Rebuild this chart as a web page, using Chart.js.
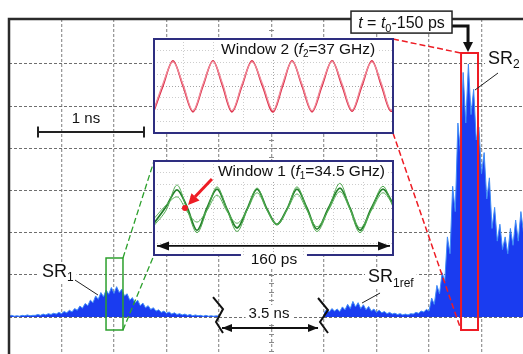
<!DOCTYPE html>
<html>
<head>
<meta charset="utf-8">
<script src="https://cdn.jsdelivr.net/npm/chart.js@4.4.1/dist/chart.umd.min.js"></script>
<style>
  html, body { margin: 0; padding: 0; background: #fff; }
  #wrap { position: relative; width: 523px; height: 354px; overflow: hidden; }
  #main { position: absolute; left: 0; top: 0; }
  .inset { position: absolute; }
</style>
</head>
<body>
<div id="wrap">
  <canvas id="main" width="523" height="354"></canvas>
  <canvas id="win2" class="inset"></canvas>
  <canvas id="win1" class="inset"></canvas>
</div>
<script>
// ---- main trace (x in screen divisions, y in divisions above baseline) ----
const traceStep = 0.05;
const sr1Start = 0;
const sr1Trace = [
  0.02, 0.04, 0.02, 0.03, 0.02, 0.04, 0.03, 0.05, 0.03, 0.04,
  0.04, 0.06, 0.04, 0.07, 0.05, 0.08, 0.06, 0.09, 0.07, 0.11,
  0.08, 0.13, 0.10, 0.16, 0.12, 0.20, 0.16, 0.26, 0.21, 0.32,
  0.27, 0.40, 0.34, 0.50, 0.42, 0.58, 0.48, 0.64, 0.54, 0.70,
  0.56, 0.72, 0.58, 0.66, 0.50, 0.55, 0.40, 0.46, 0.33, 0.40,
  0.27, 0.33, 0.22, 0.27, 0.18, 0.22, 0.14, 0.17, 0.11, 0.14,
  0.09, 0.12, 0.07, 0.10, 0.06, 0.08, 0.05, 0.07, 0.04, 0.06,
  0.03, 0.05, 0.03, 0.04, 0.02, 0.04, 0.02, 0.03, 0.02, 0.03,
  0.02
];
const sr2Start = 6.0;
const sr2Trace = [
  0.10, 0.18, 0.12, 0.20, 0.14, 0.19, 0.13, 0.24, 0.17, 0.30,
  0.20, 0.37, 0.24, 0.34, 0.20, 0.29, 0.17, 0.25, 0.14, 0.19,
  0.11, 0.16, 0.10, 0.13, 0.08, 0.11, 0.07, 0.09, 0.06, 0.08,
  0.05, 0.07, 0.05, 0.08, 0.07, 0.11, 0.09, 0.14, 0.12, 0.18,
  0.14, 0.45, 0.30, 0.75, 0.55, 1.05, 0.85, 1.9, 1.5, 3.1,
  2.5, 4.6, 3.9, 5.8, 4.6, 6.0, 4.8, 5.4, 4.2, 4.5,
  3.4, 3.9, 2.8, 3.3, 2.1, 2.6, 1.8, 2.2, 1.6, 1.9,
  1.5, 2.1, 1.7, 2.3, 1.8, 2.5, 2.0
];
const gridX = [1, 2, 3, 4, 5, 6, 7, 8, 9];
const gridY = [0, 1, 2, 3, 4, 5, 6];

// ---- window 2 (f2 = 37 GHz), time in ps ----
const w2Times  = [0, 6.0, 12.7, 19.4, 26.1, 32.8, 39.5, 45.9, 52.2, 58.9, 65.6, 72.6, 79.7,
                  86.1, 92.4, 99.1, 105.8, 112.5, 119.2, 125.9, 132.6, 139.2, 145.9, 152.3, 158.7, 160];
const w2TraceA = [-2.1, 0.0, 2.15, 0.0, -2.2, 0.0, 2.15, 0.0, -2.2, 0.0, 2.15, 0.0, -2.2,
                  0.0, 2.15, 0.0, -2.2, 0.0, 2.15, 0.0, -2.15, 0.0, 2.15, 0.0, -2.15, -2.1];
const w2TraceB = [-2.0, 0.2, 2.05, 0.15, -2.1, 0.15, 2.1, 0.2, -2.1, 0.15, 2.05, 0.2, -2.1,
                  0.2, 2.1, 0.15, -2.1, 0.2, 2.1, 0.2, -2.05, 0.2, 2.05, 0.2, -2.05, -2.0];

// ---- window 1 (f1 = 34.5 GHz) ----
const w1Times  = [0, 8.5, 15.4, 22.1, 28.8, 35.5, 42.2, 48.9, 55.6, 62.3, 69.0, 75.7,
                  82.3, 89.0, 95.7, 102.4, 109.1, 116.8, 124.5, 131.2, 137.9, 145.6, 153.3, 160];
const w1TraceA = [-1.5, -0.1, 1.95, -0.1, -2.1, -0.15, 1.8, -0.15, -2.0, -0.2, 1.7, -0.2,
                  -1.45, -0.15, 1.8, -0.1, -2.0, -0.1, 2.1, -0.1, -2.1, -0.1, 1.85, 0.1];
const w1TraceB = [-1.3, 0.2, 1.55, 0.1, -1.9, 0.0, 1.6, -0.1, -1.7, -0.1, 1.6, -0.1,
                  -1.4, -0.1, 1.6, 0.0, -1.8, 0.0, 1.7, 0.0, -1.9, 0.0, 1.6, 0.4];
const w1TraceC = [-0.9, 0.3, 0.95, -0.3, -1.2, -0.2, 1.1, -0.3, -1.3, -0.2, 1.3, -0.2,
                  -1.4, -0.2, 1.2, -0.2, -1.6, -0.2, 1.4, -0.1, -1.7, -0.2, 1.3, 0.3];
const insetGridX = [20, 40, 60, 80, 100, 120, 140];
const insetGridY = [-3, -2, -1, 0, 1, 2, 3];

const FONT = "'Liberation Sans', Arial, Helvetica, sans-serif";
const font = (size, style) => (style ? style + " " : "") + size + "px " + FONT;

function toPoints(start, values) {
  return values.map((v, i) => ({ x: +(start + i * traceStep).toFixed(3), y: v }));
}
function pairs(xs, ys) {
  return xs.map((x, i) => ({ x, y: ys[i] }));
}

// rich text: parts = [text, font, dy]
function richText(ctx, x, y, parts, align) {
  let w = 0;
  parts.forEach(p => { ctx.font = p[1]; w += ctx.measureText(p[0]).width; });
  let cx = align === "center" ? x - w / 2 : x;
  ctx.textAlign = "left";
  ctx.textBaseline = "alphabetic";
  parts.forEach(p => {
    ctx.font = p[1];
    ctx.fillText(p[0], cx, y + (p[2] || 0));
    cx += ctx.measureText(p[0]).width;
  });
  return w;
}
function textWidth(ctx, parts) {
  let w = 0;
  parts.forEach(p => { ctx.font = p[1]; w += ctx.measureText(p[0]).width; });
  return w;
}
function arrowHead(ctx, tx, ty, ang, len, half, color) {
  const c = Math.cos(ang), s = Math.sin(ang);
  ctx.fillStyle = color;
  ctx.beginPath();
  ctx.moveTo(tx, ty);
  ctx.lineTo(tx - len * c + half * s, ty - len * s - half * c);
  ctx.lineTo(tx - len * c - half * s, ty - len * s + half * c);
  ctx.closePath();
  ctx.fill();
}

function drawOverlay(c) {
  const ctx = c.ctx, xs = c.scales.x, ys = c.scales.y, a = c.chartArea;
  const X = v => xs.getPixelForValue(v), Y = v => ys.getPixelForValue(v);
  const path = (pts, color, width, dash, close) => {
    ctx.beginPath();
    ctx.setLineDash(dash || []);
    ctx.strokeStyle = color;
    ctx.lineWidth = width;
    pts.forEach((p, i) => i ? ctx.lineTo(X(p[0]), Y(p[1])) : ctx.moveTo(X(p[0]), Y(p[1])));
    if (close) ctx.closePath();
    ctx.stroke();
    ctx.setLineDash([]);
  };
  ctx.save();

  // centre axis minor ticks
  ctx.strokeStyle = "#8a8a8a";
  ctx.lineWidth = 1;
  for (let v = -0.8; v <= 7.0; v += 0.2) {
    const yy = Math.round(Y(v)) + 0.5;
    ctx.beginPath(); ctx.moveTo(X(5) - 2.5, yy); ctx.lineTo(X(5) + 2.5, yy); ctx.stroke();
  }

  // screen frame (top and left)
  ctx.strokeStyle = "#2b2b2b";
  ctx.lineWidth = 2.5;
  ctx.beginPath();
  ctx.moveTo(a.left, a.bottom); ctx.lineTo(a.left, a.top); ctx.lineTo(a.right, a.top);
  ctx.stroke();

  // zoom boxes and their guide lines
  path([[1.848, 1.399], [2.171, 1.399], [2.171, -0.308], [1.848, -0.308]], "#2ca02c", 1.5, null, true);
  path([[2.171, 1.399], [2.762, 3.699]], "#2ca02c", 1.3, [6, 3]);
  path([[2.171, -0.308], [2.762, 1.470]], "#2ca02c", 1.3, [6, 3]);
  path([[8.610, 6.26], [8.933, 6.26], [8.933, -0.308], [8.610, -0.308]], "#ee1c24", 2, null, true);
  path([[7.314, 6.592], [8.610, 6.26]], "#ee1c24", 1.5, [6, 3]);
  path([[7.314, 4.363], [8.610, -0.308]], "#ee1c24", 1.5, [6, 3]);

  // 1 ns scale bar
  path([[0.552, 4.387], [2.571, 4.387]], "#222", 2);
  ctx.strokeStyle = "#222"; ctx.lineWidth = 2;
  [0.552, 2.571].forEach(v => {
    ctx.beginPath(); ctx.moveTo(X(v), Y(4.387) - 5.5); ctx.lineTo(X(v), Y(4.387) + 5.5); ctx.stroke();
  });
  ctx.fillStyle = "#111";
  richText(ctx, X(1.467), Y(4.600), [["1 ns", font(15)]], "center");

  // time-break marks and 3.5 ns arrow
  path([[3.886, 0.474], [4.076, 0.190], [3.943, -0.119], [4.076, -0.379]], "#111", 2);
  path([[5.886, 0.451], [6.076, 0.166], [5.924, -0.119], [6.076, -0.379]], "#111", 2);
  path([[4.057, -0.261], [5.886, -0.261]], "#111", 1.8);
  arrowHead(ctx, X(4.057), Y(-0.261), Math.PI, 10, 4, "#111");
  arrowHead(ctx, X(5.886), Y(-0.261), 0, 10, 4, "#111");
  const t35 = [["3.5 ns", font(15)]];
  const w35 = textWidth(ctx, t35);
  ctx.fillStyle = "#fff";
  ctx.fillRect(X(4.952) - w35 / 2 - 3, Y(-0.024) - 13, w35 + 6, 17);
  ctx.fillStyle = "#111";
  richText(ctx, X(4.952), Y(-0.024), t35, "center");

  // SR labels with leaders
  const label = (x, y, parts, lead) => {
    const w = textWidth(ctx, parts);
    ctx.fillStyle = "#fff";
    ctx.fillRect(X(x) - 3, Y(y) - 15, w + 6, 21);
    ctx.fillStyle = "#111";
    richText(ctx, X(x), Y(y), parts);
    path(lead, "#222", 1);
  };
  label(0.629, 0.949, [["SR", font(18)], ["1", font(12), 4]], [[1.257, 0.877], [1.695, 0.522]]);
  label(6.838, 0.830, [["SR", font(18)], ["1ref", font(12), 5]], [[7.067, 0.569], [6.724, 0.332]]);
  label(9.124, 6.0, [["SR", font(18)], ["2", font(12), 4]], [[9.314, 5.786], [8.876, 5.383]]);

  // t = t0 - 150 ps marker
  const bx0 = X(6.514), bx1 = X(8.438), by0 = Y(7.254), by1 = Y(6.733);
  ctx.lineWidth = 3;
  ctx.strokeStyle = "#111";
  ctx.beginPath();
  ctx.moveTo(bx1, Y(6.901)); ctx.lineTo(X(8.743), Y(6.901)); ctx.lineTo(X(8.743), Y(6.474));
  ctx.stroke();
  arrowHead(ctx, X(8.743), Y(6.284), Math.PI / 2, 10, 5, "#111");
  ctx.fillStyle = "#fff";
  ctx.fillRect(bx0, by0, bx1 - bx0, by1 - by0);
  ctx.lineWidth = 1.5;
  ctx.strokeStyle = "#222";
  ctx.strokeRect(bx0, by0, bx1 - bx0, by1 - by0);
  ctx.fillStyle = "#111";
  richText(ctx, (bx0 + bx1) / 2, (by0 + by1) / 2 + 6,
    [["t", font(16, "italic")], [" = ", font(16)], ["t", font(16, "italic")], ["0", font(11), 4], ["-150 ps", font(16)]],
    "center");

  ctx.restore();
}

const traceStyle = {
  borderColor: "#3f8cf6",
  backgroundColor: "#1a3cf0",
  borderWidth: 1,
  pointRadius: 0,
  tension: 0,
  fill: "origin"
};

const mainChart = new Chart(document.getElementById("main"), {
  type: "line",
  data: {
    datasets: [
      Object.assign({ label: "SR1", data: toPoints(sr1Start, sr1Trace) }, traceStyle),
      Object.assign({ label: "SR1ref / SR2", data: toPoints(sr2Start, sr2Trace) }, traceStyle)
    ]
  },
  options: {
    responsive: false,
    animation: false,
    devicePixelRatio: 1,
    layout: { padding: { left: 9, top: 19, right: 0, bottom: 0 } },
    plugins: { legend: { display: false }, tooltip: { enabled: false } },
    scales: {
      x: {
        type: "linear", min: 0, max: 9.79,
        afterBuildTicks: s => { s.ticks = gridX.map(v => ({ value: v })); },
        afterFit: s => { s.height = 0; },
        ticks: { display: false },
        grid: { color: "#9a9a9a", lineWidth: 1.3, drawTicks: false },
        border: { display: false, dash: [3, 2] }
      },
      y: {
        type: "linear", min: -0.877, max: 7.067,
        afterBuildTicks: s => { s.ticks = gridY.map(v => ({ value: v })); },
        afterFit: s => { s.width = 0; },
        ticks: { display: false },
        grid: { color: "#6e6e6e", lineWidth: 1, drawTicks: false },
        border: { display: false, dash: [3, 2] }
      }
    }
  },
  plugins: [{
    id: "scopeOverlay",
    beforeDraw(c) {
      c.ctx.save(); c.ctx.fillStyle = "#fff"; c.ctx.fillRect(0, 0, c.width, c.height); c.ctx.restore();
    },
    afterDraw: drawOverlay
  }]
});

// ---- inset windows ----
function makeInset(id, box, datasets, extraBottom, drawExtra) {
  const xs = mainChart.scales.x, ys = mainChart.scales.y;
  const left = xs.getPixelForValue(box[0]), right = xs.getPixelForValue(box[1]);
  const top = ys.getPixelForValue(box[2]), bottom = ys.getPixelForValue(box[3]);
  const m = 2;
  const cv = document.getElementById(id);
  cv.width = Math.round(right - left) + 2 * m;
  cv.height = Math.round(bottom - top) + 2 * m + extraBottom;
  cv.style.left = Math.round(left - m) + "px";
  cv.style.top = Math.round(top - m) + "px";
  return new Chart(cv, {
    type: "line",
    data: { datasets },
    options: {
      responsive: false,
      animation: false,
      devicePixelRatio: 1,
      layout: { padding: { left: m, top: m, right: m, bottom: m + extraBottom } },
      plugins: { legend: { display: false }, tooltip: { enabled: false } },
      elements: { point: { radius: 0 }, line: { cubicInterpolationMode: "monotone" } },
      scales: {
        x: {
          type: "linear", min: 0, max: 160,
          afterBuildTicks: s => { s.ticks = insetGridX.map(v => ({ value: v })); },
          afterFit: s => { s.height = 0; },
          ticks: { display: false },
          grid: { drawTicks: false, color: ctx => (ctx.tick && ctx.tick.value === 80 ? "#a5a5a5" : "#cdcdcd") },
          border: { display: false, dash: [1, 2] }
        },
        y: {
          type: "linear", min: -4, max: 4,
          afterBuildTicks: s => { s.ticks = insetGridY.map(v => ({ value: v })); },
          afterFit: s => { s.width = 0; },
          ticks: { display: false },
          grid: { drawTicks: false, color: ctx => (ctx.tick && ctx.tick.value === 0 ? "#a5a5a5" : "#cdcdcd") },
          border: { display: false, dash: [1, 2] }
        }
      }
    },
    plugins: [{
      id: "insetFrame",
      beforeDraw(c) {
        const a = c.chartArea;
        c.ctx.save(); c.ctx.fillStyle = "#fff"; c.ctx.fillRect(a.left, a.top, a.right - a.left, a.bottom - a.top); c.ctx.restore();
      },
      afterDraw(c) {
        const ctx = c.ctx;
        ctx.save();
        drawExtra(c, ctx, v => c.scales.x.getPixelForValue(v), v => c.scales.y.getPixelForValue(v));
        ctx.restore();
      }
    }]
  });
}

const navy = "#2e2e80";

makeInset("win2", [2.762, 7.314, 6.592, 4.363], [
  { data: pairs(w2Times, w2TraceB), borderColor: "#f08b9a", borderWidth: 1.3 },
  { data: pairs(w2Times, w2TraceA), borderColor: "#dc2a44", borderWidth: 1.6 }
], 0, (c, ctx, X, Y) => {
  const a = c.chartArea;
  const parts = [["Window 2 (", font(15.5)], ["f", font(15.5, "italic")], ["2", font(10), 3], ["=37 GHz)", font(15.5)]];
  const w = textWidth(ctx, parts);
  ctx.fillStyle = "#fff";
  ctx.fillRect(X(44.9) - 2, Y(2.72) - 12, w + 4, 16);
  ctx.fillStyle = "#111";
  richText(ctx, X(44.9), Y(2.72), parts);
  ctx.strokeStyle = navy; ctx.lineWidth = 2;
  ctx.strokeRect(a.left, a.top, a.right - a.left, a.bottom - a.top);
});

makeInset("win1", [2.762, 7.314, 3.699, 1.470], [
  { data: pairs(w1Times, w1TraceA), borderColor: "#4fa94f", borderWidth: 1 },
  { data: pairs(w1Times, w1TraceC), borderColor: "#5db35d", borderWidth: 1 },
  { data: pairs(w1Times, w1TraceB), borderColor: "#23802a", borderWidth: 1.8 }
], 13, (c, ctx, X, Y) => {
  const a = c.chartArea;
  const parts = [["Window 1 (", font(15.5)], ["f", font(15.5, "italic")], ["1", font(10), 3], ["=34.5 GHz)", font(15.5)]];
  const w = textWidth(ctx, parts);
  ctx.fillStyle = "#fff";
  ctx.fillRect(X(42.8) - 2, Y(2.72) - 12, w + 4, 16);
  ctx.fillStyle = "#111";
  richText(ctx, X(42.8), Y(2.72), parts);

  // red marker arrow
  ctx.strokeStyle = "#ee1c24"; ctx.lineWidth = 3;
  ctx.beginPath(); ctx.moveTo(X(38.8), Y(2.47)); ctx.lineTo(X(27.5), Y(0.95)); ctx.stroke();
  const ang = Math.atan2(Y(0.255) - Y(2.47), X(22.8) - X(38.8));
  arrowHead(ctx, X(22.8), Y(0.255), ang, 11, 5.5, "#ee1c24");
  ctx.beginPath(); ctx.arc(X(20.75), Y(0), 3, 0, Math.PI * 2); ctx.fill();

  // 160 ps double arrow
  ctx.strokeStyle = "#111"; ctx.lineWidth = 1.8;
  ctx.beginPath(); ctx.moveTo(X(2), Y(-3.23)); ctx.lineTo(X(158), Y(-3.23)); ctx.stroke();
  arrowHead(ctx, X(2), Y(-3.23), Math.PI, 12, 4.5, "#111");
  arrowHead(ctx, X(158), Y(-3.23), 0, 12, 4.5, "#111");

  // frame with gap for the label
  ctx.strokeStyle = navy; ctx.lineWidth = 2;
  ctx.beginPath();
  ctx.moveTo(X(58.2), a.bottom); ctx.lineTo(a.left, a.bottom); ctx.lineTo(a.left, a.top);
  ctx.lineTo(a.right, a.top); ctx.lineTo(a.right, a.bottom); ctx.lineTo(X(102.4), a.bottom);
  ctx.stroke();
  const lab = [["160 ps", font(15.5)]];
  const lw = textWidth(ctx, lab);
  ctx.fillStyle = "#fff";
  ctx.fillRect(X(80.3) - lw / 2 - 3, Y(-4.77) - 12, lw + 6, 16);
  ctx.fillStyle = "#111";
  richText(ctx, X(80.3), Y(-4.77), lab, "center");
});
</script>
</body>
</html>
